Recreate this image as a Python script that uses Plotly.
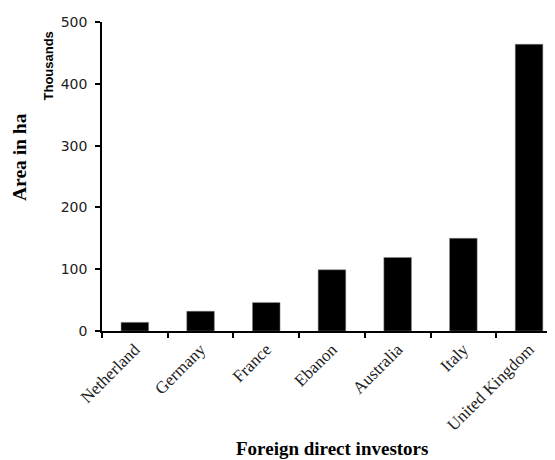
import plotly.graph_objects as go

categories = ["Netherland", "Germany", "France", "Ebanon", "Australia", "Italy", "United Kingdom"]
values = [14, 32, 46, 99, 119, 150, 464]
y_ticks = [0, 100, 200, 300, 400, 500]

# The page body adds an 8px offset; positions below are in figure pixels.
OFF = 8
W, H = 555, 460
l, r, t, b = 102 - OFF, 0, 22 - OFF, H - (331 - OFF)
pw, ph = W - l - r, H - t - b
cat_px = 65.7

fig = go.Figure()
fig.add_trace(go.Bar(
    x=categories, y=values,
    marker=dict(color="black", line=dict(color="#888888", width=0.5)),
    width=0.42,
))

fig.update_layout(
    width=W, height=H,
    margin=dict(l=l, r=r, t=t, b=b, autoexpand=False),
    plot_bgcolor="white", paper_bgcolor="white",
    showlegend=False,
    xaxis=dict(
        range=[-0.5, -0.5 + pw / cat_px],
        showline=True, linecolor="black", linewidth=1.5,
        ticks="outside", ticklen=5, tickcolor="black", tickwidth=1.5,
        tickson="boundaries",
        tickangle=-45,
        tickfont=dict(family="Liberation Serif", size=17, color="#222222"),
        showgrid=False, zeroline=False, automargin=False,
    ),
    yaxis=dict(
        range=[0, 500],
        tickvals=y_ticks,
        showline=True, linecolor="black", linewidth=1.5,
        ticks="outside", ticklen=5, tickcolor="black", tickwidth=1.5,
        tickfont=dict(family="DejaVu Sans", size=14, color="#222222"),
        ticklabelstandoff=5,
        showgrid=False, zeroline=False, automargin=False,
    ),
)

texts = [
    ("<b>Thousands</b>", 48.5, 66, -90, "Liberation Sans", 13),
    ("<b>Area in ha</b>", 19, 157, -90, "Liberation Serif", 19.5),
    ("<b>Foreign direct investors</b>", 332, 449, 0, "Liberation Serif", 19),
]
for txt, sx, sy, ang, fam, sz in texts:
    fx, fy = sx - OFF, sy - OFF
    fig.add_annotation(
        text=txt, xref="paper", yref="paper",
        x=(fx - l) / pw, y=1 - (fy - t) / ph,
        xanchor="center", yanchor="middle",
        showarrow=False, textangle=ang,
        font=dict(family=fam, size=sz, color="black"),
    )

fig.write_html("out.html")
